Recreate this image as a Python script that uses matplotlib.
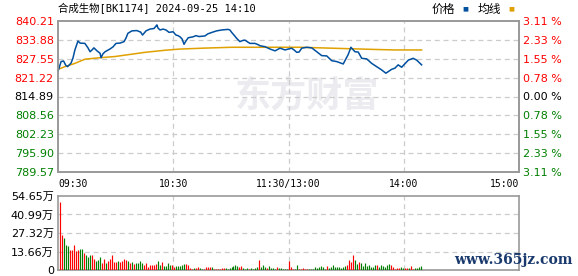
import numpy as np
from matplotlib import pyplot as plt

plt.rcParams['font.family'] = ['DejaVu Sans', 'Noto Sans CJK SC']

# chart data
title = '合成生物[BK1174] 2024-09-25 14:10'
pre_close = 814.89
price_ticks = [840.21, 833.88, 827.55, 821.22, 814.89, 808.56, 802.23, 795.90, 789.57]
pct_labels = ['3.11 %', '2.33 %', '1.55 %', '0.78 %', '0.00 %', '0.78 %', '1.55 %', '2.33 %', '3.11 %']
time_ticks = [0, 60, 120, 180, 240]
time_labels = ['09:30', '10:30', '11:30/13:00', '14:00', '15:00']
vol_ticks = [0, 13.66, 27.32, 40.99, 54.65]
vol_labels = ['0', '13.66万', '27.32万', '40.99万', '54.65万']

price_min = [0, 1.6, 2.9, 4, 5, 6.8, 7.8, 8.8, 10.4, 11.5, 14, 15.6, 16.7, 17.7, 18.7, 20.3, 21.9, 22.4,
             23.4, 24.5, 27, 28.6, 30.2, 32.3, 34.4, 35.4, 36.4, 38.5, 41, 43, 44, 45.8, 47.9, 50, 51,
             51.5, 52, 53.1, 54.7, 56.2, 57.8, 59.9, 61.4, 62.5, 63.5, 64.6, 65.6, 66.6, 67.8, 70.3,
             71.8, 73.4, 76.5, 78, 80.2, 82.6, 85.2, 88.5, 89.5, 90.4, 91.6, 93, 94.7, 96.3, 97.3,
             99.9, 102.5, 104.1, 105.2, 107.8, 110.4, 113, 115.6, 118.2, 121.6, 122.9, 124.3, 125.5,
             126.9, 129.5, 132.1, 134.7, 137.3, 139.9, 142.5, 145.1, 148.5, 151.1, 152.5, 154.6,
             156.3, 158.1, 160.7, 163.3, 165.9, 168.5, 170.7, 173.7, 175.4, 177.1, 178.9, 182.4,
             184.9, 186.7, 189.3]
price = [823.3, 826.6, 826.8, 825.4, 824.9, 826.1, 827.8, 830.5, 833.5, 832.8, 832.7, 831.2, 829.9,
         830.5, 831.2, 830.2, 829.4, 827.9, 829.2, 829.9, 830.8, 831.5, 832.7, 832.8, 833.3, 834.5,
         836.1, 836.9, 837.0, 836.5, 835.5, 836.9, 837.5, 837.7, 838.5, 838.9, 837.9, 837.2, 837.5,
         837.2, 836.4, 836.6, 835.5, 835.3, 834.9, 834.2, 832.4, 833.5, 834.6, 834.9, 835.3, 835.0,
         835.2, 835.9, 836.4, 836.9, 837.2, 837.4, 837.2, 836.4, 835.5, 834.4, 833.3, 833.7, 833.8,
         832.7, 832.7, 832.3, 831.9, 831.6, 830.8, 830.2, 831.1, 830.5, 831.1, 830.5, 829.7, 829.8,
         831.1, 831.4, 831.2, 829.9, 828.6, 828.5, 826.9, 826.6, 825.8, 829.0, 831.4, 829.9, 829.8,
         827.7, 827.5, 826.0, 824.9, 823.8, 822.7, 824.0, 824.4, 825.5, 824.7, 827.1, 827.7, 827.1,
         825.5]

avg_min = [0, 3.6, 8.8, 14, 21.9, 29.7, 37.5, 45.3, 55.7, 63.5, 75.5, 90.4, 126, 142, 163.3, 175.4, 189.3]
avg_price = [824.0, 824.9, 826.0, 827.4, 827.9, 828.3, 829.0, 829.7, 830.4, 830.8, 831.1, 831.4,
             831.4, 831.1, 830.7, 830.5, 830.5]

volume = [50.2, 25.8, 23.4, 18.5, 17.7, 14.8, 14.8, 18.5, 14.0, 14.8, 15.3, 15.3, 12.8, 11.1, 9.8,
          11.1, 11.1, 8.1, 6.9, 7.4, 9.8, 5.4, 8.1, 4.9, 6.9, 7.9, 11.1, 6.2, 6.2, 6.9, 6.2, 6.9, 8.1,
          7.4, 6.6, 5.4, 6.2, 4.4, 5.4, 5.4, 6.9, 4.9, 3.7, 5.4, 2.5, 3.7, 3.7, 3.7, 4.4, 6.9, 3.7,
          6.2, 3.0, 3.0, 5.4, 3.7, 3.7, 2.5, 3.0, 3.0, 3.0,
          3.7, 4.4, 4.4, 3.7, 1.2, 0.7, 1.2, 1.2, 2.0, 1.2, 0.7, 0.7, 2.0, 2.5, 2.5, 2.5, 0.7, 0.7,
          0.7, 0.7, 1.7, 1.7, 1.7, 0.7, 1.2, 2.0, 3.0, 3.7, 3.0, 2.5, 3.0, 1.2, 0.7, 1.2, 0.7, 1.2,
          0.7, 1.7, 2.5, 7.4, 2.5, 3.7, 2.0, 1.7, 3.0, 1.7, 1.7, 0.7, 2.0, 1.7, 1.7, 0.7, 0.7, 0.7,
          6.9, 2.0, 0.7, 0.7, 3.7,
          0.7, 0.7, 1.2, 0.7, 0.7, 0.7, 0.7, 0.7, 2.0, 1.7, 2.0, 3.0, 2.5, 0.7, 3.0, 1.7, 2.5, 3.7,
          2.0, 2.0, 2.0, 1.7, 2.0, 3.0, 3.7, 7.4, 6.2, 11.1, 7.4, 4.4, 6.2, 5.4, 3.0, 4.9, 3.0, 3.7,
          2.5, 2.5, 3.7, 3.7, 2.5, 3.7, 3.0, 2.0, 3.7, 4.4, 3.7, 2.5, 0.7, 1.2, 1.7, 2.0, 1.2, 1.2,
          1.7, 1.2, 3.0, 0.7, 1.2, 1.7, 2.0, 3.0]
# r = up (red), g = down (green), one letter per bar
vol_dir = ('rrgggrrrrrggrgggrrgggrrgrrrrrgrrrrgrgrggggrrrrrrrggrggggrrggg'
           'ggrrrrgrrggrrrrgrrrrrrgggggggrrgggrggggrgggrggggrgggggrrrgg'
           'rrrrrgggggggggrgggggggggrrrrggrggggggggrggggggrrrrrggrrgrrgggg')

red = '#ff0000'
green = '#008000'
grid_kw = dict(color='#cccccc', linestyle=(0, (4, 3)), linewidth=0.9)

fig = plt.figure(figsize=(5.78, 2.76), dpi=100)
fig.patch.set_facecolor('white')
ax = fig.add_axes([58 / 578, 1 - 172 / 276, 461 / 578, 151 / 276])
axv = fig.add_axes([58 / 578, 1 - 270 / 276, 461 / 578, 74 / 276])

# price panel
ax.plot(avg_min, avg_price, color='#e0a000', linewidth=1.1, zorder=3)
ax.plot(price_min, price, color='#0050a0', linewidth=1.1, zorder=4)
ax.set_xlim(0, 240)
ax.set_ylim(price_ticks[-1], price_ticks[0])
ax.set_yticks(price_ticks)
ax.set_yticklabels(['%.2f' % v for v in price_ticks], fontsize=8)
for lab, v in zip(ax.get_yticklabels(), price_ticks):
    lab.set_color(red if v > pre_close + 0.01 else (green if v < pre_close - 0.01 else 'black'))
ax.set_xticks(time_ticks)
ax.set_xticklabels(time_labels, fontsize=7, family=['DejaVu Sans Mono'])
xl = ax.get_xticklabels()
xl[0].set_ha('left')
xl[-1].set_ha('right')
ax.tick_params(length=0, pad=3)
ax.tick_params(axis='x', pad=5)
for v in price_ticks[1:-1]:
    ax.axhline(v, zorder=1, **grid_kw)
for t in time_ticks[1:-1]:
    ax.axvline(t, zorder=1, **grid_kw)

ax2 = ax.twinx()
ax2.set_ylim(ax.get_ylim())
ax2.set_yticks(price_ticks)
ax2.set_yticklabels(pct_labels, fontsize=8)
for lab, v in zip(ax2.get_yticklabels(), price_ticks):
    lab.set_color(red if v > pre_close + 0.01 else (green if v < pre_close - 0.01 else 'black'))
ax2.tick_params(length=0, pad=3)

for a in (ax, ax2, axv):
    for s in a.spines.values():
        s.set_color('#999999')
        s.set_linewidth(1.2)

# watermark
ax.text(0.54, 0.5, '东方财富', transform=ax.transAxes, ha='center', va='center',
        fontsize=26, fontweight='bold', color='#ececf0', family=['Noto Sans CJK SC'], zorder=0)

# title and legend
ty = 1 - 9 / 276
fig.text(58 / 578, ty, title, ha='left', va='center', fontsize=7.5,
         family=['DejaVu Sans Mono', 'Noto Sans CJK SC'])
fig.text(443 / 578, ty, '价格', ha='center', va='center', fontsize=8.5, family=['Noto Sans CJK SC'])
fig.text(465 / 578, ty, '■', ha='center', va='center', fontsize=4.5, color='#0050a0')
fig.text(489 / 578, ty, '均线', ha='center', va='center', fontsize=8.5, family=['Noto Sans CJK SC'])
fig.text(511 / 578, ty, '■', ha='center', va='center', fontsize=4.5, color='#e0a000')

# volume panel, one thin line per minute
vx = np.linspace(1, 189, len(volume))
vcol = [red if c == 'r' else green for c in vol_dir]
axv.vlines(vx, 0, volume, colors=vcol, linewidth=0.85, zorder=3)
axv.set_xlim(0, 240)
axv.set_ylim(0, vol_ticks[-1])
axv.set_xticks([])
axv.set_yticks(vol_ticks)
axv.set_yticklabels(vol_labels, fontsize=8)
axv.tick_params(length=0, pad=3)
for v in vol_ticks[1:-1]:
    axv.axhline(v, zorder=1, **grid_kw)
for t in time_ticks[1:-1]:
    axv.axvline(t, zorder=1, **grid_kw)

fig.text(513 / 578, 1 - 260 / 276, 'www.365jz.com', ha='center', va='center', fontsize=10,
         family=['DejaVu Serif'], fontweight='bold', color='#1a3a6e')

fig.savefig('out.png', dpi=100, facecolor='white')
